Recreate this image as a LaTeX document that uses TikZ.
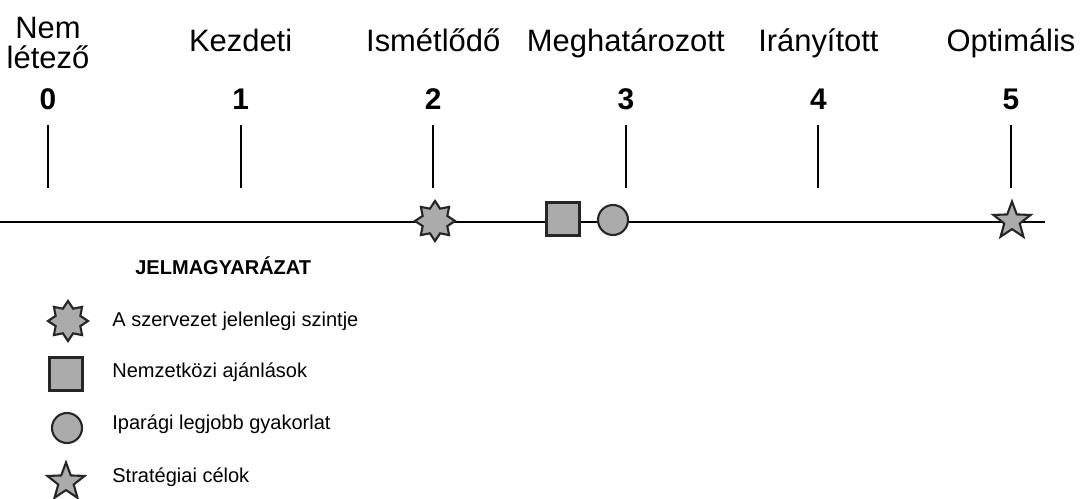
\documentclass[tikz,border=0pt]{standalone}
\usepackage{fontspec}
\setmainfont{Liberation Sans}
\usetikzlibrary{shapes.geometric}

\begin{document}
\begin{tikzpicture}[x=0.02cm,y=-0.02cm,
  jel/.style={draw=black!85,line width=1.2pt,fill=black!33,inner sep=0pt},
  jelen/.style={jel,star,star points=8,star point ratio=1.5,minimum size=0.8cm},
  ajanlas/.style={jel,rectangle,minimum size=0.66cm},
  gyakorlat/.style={jel,circle,minimum size=0.6cm},
  cel/.style={jel,star,star points=5,star point ratio=2.4,minimum size=0.78cm},
  szint/.style={anchor=base,inner sep=0pt,align=center,font=\fontsize{17.6}{17.6}\selectfont},
  szam/.style={anchor=base,inner sep=0pt,font=\fontsize{17}{17}\selectfont\bfseries},
  leiras/.style={anchor=base west,inner sep=0pt,font=\fontsize{11.4}{12}\selectfont}]

\useasboundingbox (0,0) rectangle (1081,499);

% szintek: nev, szam, jelolo vonal
\node[szint] (nev0) at (48,69) {Nem\\létező};
\foreach \i/\nev in {1/Kezdeti,2/Ismétlődő,3/Meghatározott,4/Irányított,5/Optimális}
  \node[szint] (nev\i) at (48+192.6*\i,52) {\nev};
\foreach \i in {0,...,5} {
  \node[szam] (szam\i) at (48+192.6*\i,110) {\i};
  \coordinate (fel\i) at (48+192.6*\i,125);
  \coordinate (le\i) at (48+192.6*\i,188);
  \draw[line width=1.1pt] (fel\i) -- (le\i);
}

% tengely
\coordinate (bal) at (0,222);
\coordinate (jobb) at (1045,222);
\draw[line width=1.7pt] (bal) -- (jobb);

\node[jelen] (most) at (435,221) {};
\node[ajanlas] (nemz) at (563,219) {};
\node[gyakorlat] (ipar) at (613,220) {};
\node[cel] (strat) at (1012,221) {};

% jelmagyarazat
\node[leiras,font=\fontsize{11.4}{12}\selectfont\bfseries] (cim) at (135,275) {JELMAGYARÁZAT};
\node[jelen] (j1) at (68,321) {};
\node[ajanlas] (j2) at (66,374) {};
\node[gyakorlat] (j3) at (67,428) {};
\node[cel] (j4) at (66,482) {};
\node[leiras] (l1) at (112,327) {A szervezet jelenlegi szintje};
\node[leiras] (l2) at (112,378) {Nemzetközi ajánlások};
\node[leiras] (l3) at (112,430) {Iparági legjobb gyakorlat};
\node[leiras] (l4) at (112,482) {Stratégiai célok};
\end{tikzpicture}
\end{document}
